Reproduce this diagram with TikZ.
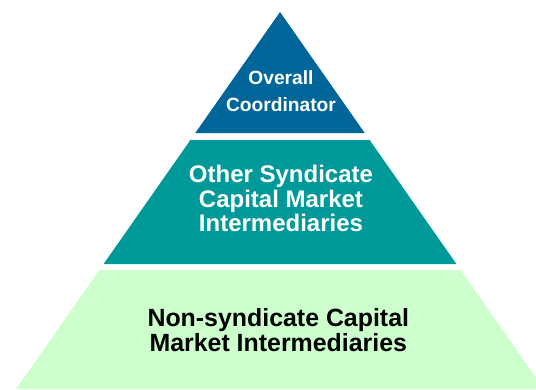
\documentclass[tikz,border=0pt]{standalone}
\usepackage{fontspec}
\setmainfont{Liberation Sans}
\definecolor{tierblue}{HTML}{006699}
\definecolor{tierteal}{HTML}{009999}
\definecolor{tiergreen}{HTML}{CCFFCC}

\begin{document}
\begin{tikzpicture}[x=1pt, y=-1pt,
    tier/.style={align=center, inner sep=0pt}]
  \useasboundingbox (0,0) rectangle (536,389);
  \clip (0,0) rectangle (536,389);
  % the three layers of the pyramid
  \fill [tierblue] (280,12) -- (364.7,133) -- (195.3,133) -- cycle;
  \fill [tierteal] (190.4,140) -- (369.6,140) -- (456.4,264) -- (103.6,264) -- cycle;
  \fill [tiergreen] (99.4,270) -- (460.6,270) -- (543.9,389) -- (16.1,389) -- cycle;
  % labels
  \node [tier, white, font=\fontsize{19.2}{27}\selectfont\bfseries] (coord) at (281,91.3) {Overall\\Coordinator};
  \node [tier, white, font=\fontsize{24}{24.5}\selectfont\bfseries] (synd) at (281,198.7) {Other Syndicate\\Capital Market\\Intermediaries};
  \node [tier, black, font=\fontsize{24.9}{25}\selectfont\bfseries] (nonsynd) at (278.3,330.5) {Non-syndicate Capital\\Market Intermediaries};
\end{tikzpicture}
\end{document}
